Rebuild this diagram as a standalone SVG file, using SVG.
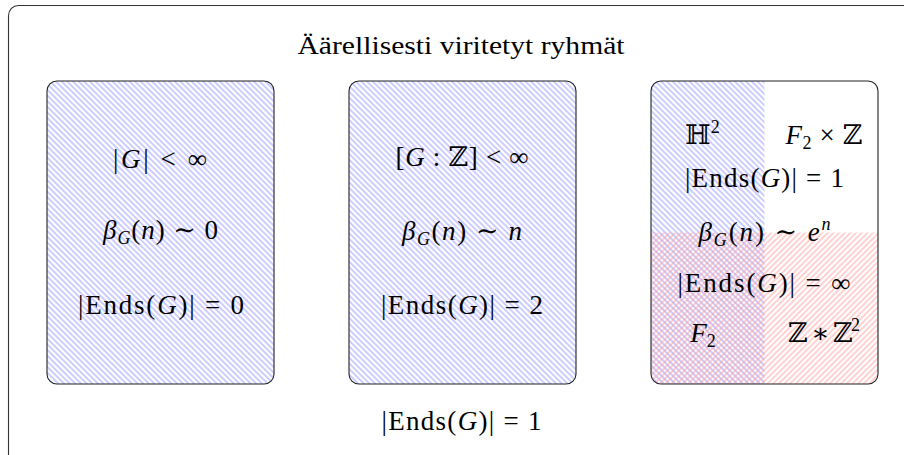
<svg xmlns="http://www.w3.org/2000/svg" width="904" height="455" viewBox="0 0 904 455">
<style>
.t{font-family:"Liberation Serif","DejaVu Serif",serif;font-size:27px;fill:#000;text-anchor:middle}
.h{font-size:25px}
.i{font-style:italic}
.s{font-size:18px}
.box{fill:none;stroke:#222;stroke-width:1.1}
</style>
<defs>
<pattern id="nw" width="4" height="4" patternUnits="userSpaceOnUse" patternTransform="rotate(-45)">
<line x1="2" y1="0" x2="2" y2="4" stroke="#8080ff" stroke-width="0.8"/>
</pattern>
<pattern id="ne" width="4" height="4" patternUnits="userSpaceOnUse" patternTransform="rotate(45)">
<line x1="2" y1="0" x2="2" y2="4" stroke="#ff8c8c" stroke-width="0.8"/>
</pattern>
<clipPath id="c3"><rect x="651" y="81" width="227" height="303" rx="10"/></clipPath>
</defs>
<rect x="8.5" y="5.5" width="920" height="470" rx="10" fill="none" stroke="#333" stroke-width="1.1"/>
<text class="t h" x="461" y="54" textLength="327" lengthAdjust="spacingAndGlyphs">Äärellisesti viritetyt ryhmät</text>
<g id="box1">
<rect x="47" y="81" width="227" height="303" rx="10" fill="url(#nw)"/>
<rect class="box" x="47" y="81" width="227" height="303" rx="10"/>
<text class="t" x="160" y="168" textLength="94" lengthAdjust="spacing">|<tspan class="i">G</tspan>| &lt; ∞</text>
<text class="t" x="160.5" y="239" textLength="115" lengthAdjust="spacing"><tspan class="i">β</tspan><tspan class="i s" dy="5">G</tspan><tspan dy="-5">(</tspan><tspan class="i">n</tspan>) ∼ 0</text>
<text class="t" x="161" y="314" textLength="166" lengthAdjust="spacing">|Ends(<tspan class="i">G</tspan>)| = 0</text>
</g>
<g id="box2">
<rect x="349" y="81" width="227" height="303" rx="10" fill="url(#nw)"/>
<rect class="box" x="349" y="81" width="227" height="303" rx="10"/>
<text class="t" x="462" y="166" textLength="133" lengthAdjust="spacing">[<tspan class="i">G</tspan> : ℤ] &lt; ∞</text>
<text class="t" x="462" y="240" textLength="120" lengthAdjust="spacing"><tspan class="i">β</tspan><tspan class="i s" dy="5">G</tspan><tspan dy="-5">(</tspan><tspan class="i">n</tspan>) ∼ <tspan class="i">n</tspan></text>
<text class="t" x="462" y="314" textLength="162" lengthAdjust="spacing">|Ends(<tspan class="i">G</tspan>)| = 2</text>
</g>
<g id="box3">
<g clip-path="url(#c3)">
<rect x="651" y="81" width="113.5" height="303" fill="url(#nw)"/>
<rect x="651" y="232.5" width="227" height="151.5" fill="url(#ne)"/>
</g>
<rect class="box" x="651" y="81" width="227" height="303" rx="10"/>
<text class="t" x="702.5" y="143.5">ℍ<tspan class="s" dy="-11">2</tspan></text>
<text class="t" x="824" y="143.5" textLength="77" lengthAdjust="spacing"><tspan class="i">F</tspan><tspan class="s" dy="5">2</tspan><tspan dy="-5"> × ℤ</tspan></text>
<text class="t" x="764.5" y="187" textLength="159" lengthAdjust="spacing">|Ends(<tspan class="i">G</tspan>)| = 1</text>
<text class="t" x="764.5" y="240.5" textLength="132" lengthAdjust="spacing"><tspan class="i">β</tspan><tspan class="i s" dy="5">G</tspan><tspan dy="-5">(</tspan><tspan class="i">n</tspan>) ∼ <tspan class="i">e</tspan><tspan class="i s" dy="-11">n</tspan></text>
<text class="t" x="764" y="291.5" textLength="173" lengthAdjust="spacing">|Ends(<tspan class="i">G</tspan>)| = ∞</text>
<text class="t" x="703" y="341.5"><tspan class="i">F</tspan><tspan class="s" dy="5">2</tspan></text>
<text class="t" x="824" y="341.5" textLength="72" lengthAdjust="spacing">ℤ ∗ ℤ<tspan class="s" dy="-11">2</tspan></text>
</g>
<text class="t" x="461.5" y="430" textLength="160" lengthAdjust="spacing">|Ends(<tspan class="i">G</tspan>)| = 1</text>
</svg>
